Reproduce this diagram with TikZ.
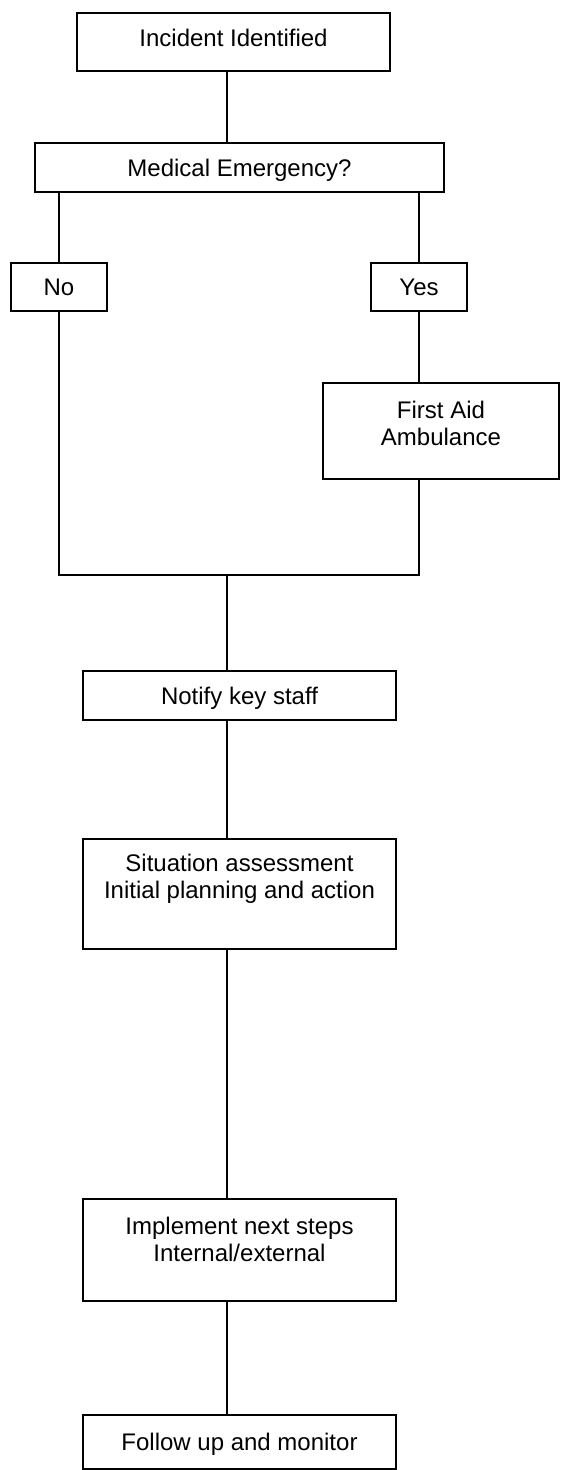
\documentclass[tikz,border=0pt]{standalone}
\usepackage{fontspec}
\setmainfont{Liberation Sans}
\begin{document}
\begin{tikzpicture}[x=1pt,y=-1pt,
  box/.style={draw=black,line width=1.3pt,fill=white,inner sep=0pt,
    font=\fontsize{24}{27}\selectfont,text height=17.2pt,text depth=0pt},
  txt/.style={inner sep=0pt,align=center,font=\fontsize{24}{27}\selectfont},
  link/.style={draw=black,line width=1.3pt}]
\useasboundingbox[fill=white] (0,0) rectangle (561,1470);
\coordinate (ax) at (227,0);
% boxes
\node[box,minimum width=313,minimum height=58,text depth=8pt] (inc) at (233.5,42) {Incident Identified};
\node[box,minimum width=409,minimum height=49] (med) at (239.5,167.5) {Medical Emergency?};
\node[box,minimum width=96,minimum height=48] (no) at (59,287) {No};
\node[box,minimum width=96,minimum height=48] (yes) at (419,287) {Yes};
\node[box,minimum width=236,minimum height=96] (fa) at (441,431) {};
\node[txt] (fat) at (441,423) {First Aid\\Ambulance};
\node[box,minimum width=313,minimum height=49] (notify) at (239.5,695.5) {Notify key staff};
\node[box,minimum width=313,minimum height=110] (sit) at (239.5,894) {};
\node[txt] (sitt) at (239.5,879) {Situation assessment\\Initial planning and action};
\node[box,minimum width=313,minimum height=102] (imp) at (239.5,1250) {};
\node[txt] (impt) at (239.5,1239) {Implement next steps\\Internal/external};
\node[box,minimum width=313,minimum height=54] (fol) at (239.5,1442) {Follow up and monitor};
% join coordinates
\coordinate (jl) at (59,575);
\coordinate (jr) at (419,575);
\coordinate (jc) at (227,575);
% connectors
\draw[link] (inc.south -| ax) -- (med.north -| ax);
\draw[link] (med.south -| no.north) -- (no.north);
\draw[link] (med.south -| yes.north) -- (yes.north);
\draw[link] (yes.south) -- (yes.south |- fa.north);
\draw[link] (no.south) -- (jl) -- (jr) -- (jr |- fa.south);
\draw[link] (jc) -- (jc |- notify.north);
\draw[link] (notify.south -| ax) -- (sit.north -| ax);
\draw[link] (sit.south -| ax) -- (imp.north -| ax);
\draw[link] (imp.south -| ax) -- (fol.north -| ax);
\end{tikzpicture}
\end{document}
